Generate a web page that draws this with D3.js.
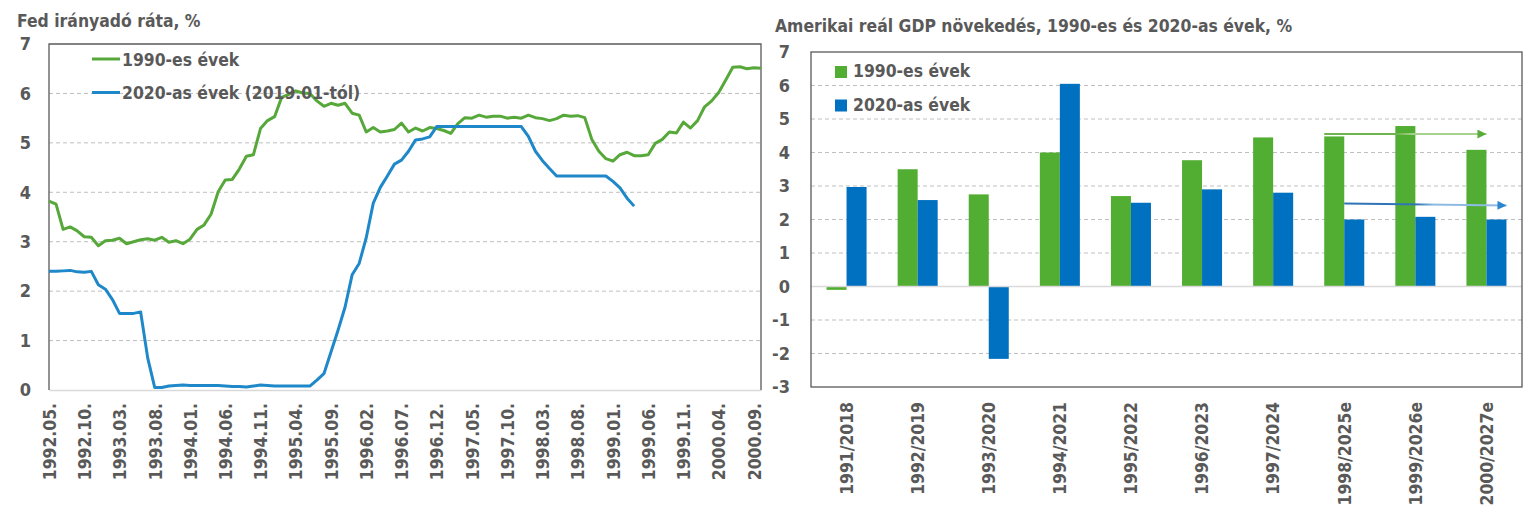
<!DOCTYPE html>
<html>
<head>
<meta charset="utf-8">
<script src="https://cdn.jsdelivr.net/npm/d3@7"></script>
<style>
  body { margin: 0; background: #fff; }
  svg text { font-family: "DejaVu Sans Condensed", "DejaVu Sans", sans-serif; font-stretch: condensed; font-weight: bold; fill: #595959; }
</style>
</head>
<body>
<div id="chart"></div>
<script>
const width = 1540,
      height = 511;

// Fed effective rate, monthly; 1990s series from 1992.05, 2020s series from 2019.01
const rate1990s = [
  3.82, 3.76, 3.25, 3.30, 3.22, 3.10, 3.09, 2.92,
  3.02, 3.03, 3.07, 2.96, 3.00, 3.04, 3.06, 3.03, 3.09, 2.99, 3.02, 2.96,
  3.05, 3.25, 3.34, 3.56, 4.01, 4.25, 4.26, 4.47, 4.73, 4.76, 5.29, 5.45,
  5.53, 5.92, 5.98, 6.05, 6.01, 6.00, 5.85, 5.74, 5.80, 5.76, 5.80, 5.60,
  5.56, 5.22, 5.31, 5.22, 5.24, 5.27, 5.40, 5.22, 5.30, 5.24, 5.31, 5.29,
  5.25, 5.19, 5.39, 5.51, 5.50, 5.56, 5.52, 5.54, 5.54, 5.50, 5.52, 5.50,
  5.56, 5.51, 5.49, 5.45, 5.49, 5.56, 5.54, 5.55, 5.51, 5.07, 4.83, 4.68,
  4.63, 4.76, 4.81, 4.74, 4.74, 4.76, 4.99, 5.07, 5.22, 5.20, 5.42, 5.30,
  5.45, 5.73, 5.85, 6.02, 6.27, 6.53, 6.54, 6.50, 6.52, 6.51
];
const rate2020s = [
  2.40, 2.40, 2.41, 2.42, 2.39, 2.38, 2.40, 2.13, 2.04, 1.83, 1.55, 1.55,
  1.55, 1.58, 0.65, 0.05, 0.05, 0.08, 0.09, 0.10, 0.09, 0.09, 0.09, 0.09,
  0.09, 0.08, 0.07, 0.07, 0.06, 0.08, 0.10, 0.09, 0.08, 0.08, 0.08, 0.08,
  0.08, 0.08, 0.20, 0.33, 0.77, 1.21, 1.68, 2.33, 2.56, 3.08, 3.78, 4.10,
  4.33, 4.57, 4.65, 4.83, 5.06, 5.08, 5.12, 5.33, 5.33, 5.33, 5.33, 5.33,
  5.33, 5.33, 5.33, 5.33, 5.33, 5.33, 5.33, 5.33, 5.13, 4.83, 4.64, 4.48,
  4.33, 4.33, 4.33, 4.33, 4.33, 4.33, 4.33, 4.33, 4.22, 4.09, 3.88, 3.72
];
const rateTickLabels = [
  '1992.05.', '1992.10.', '1993.03.', '1993.08.', '1994.01.', '1994.06.', '1994.11.',
  '1995.04.', '1995.09.', '1996.02.', '1996.07.', '1996.12.', '1997.05.', '1997.10.',
  '1998.03.', '1998.08.', '1999.01.', '1999.06.', '1999.11.', '2000.04.', '2000.09.'
];
const rateSeries = ['1990-es évek', '2020-as évek (2019.01-tól)'];

// GDP growth
const gdpCategories = ['1991/2018', '1992/2019', '1993/2020', '1994/2021', '1995/2022',
                       '1996/2023', '1997/2024', '1998/2025e', '1999/2026e', '2000/2027e'];
const gdp1990s = [-0.1, 3.5, 2.75, 4.0, 2.7, 3.77, 4.45, 4.48, 4.79, 4.08];
const gdp2020s = [2.97, 2.58, -2.16, 6.05, 2.5, 2.9, 2.8, 2.0, 2.08, 2.0];
const gdpSeries = ['1990-es évek', '2020-as évek'];
const gdpArrows = [
  { series: '1990-es évek', from: '1998/2025e', to: '2000/2027e', v0: 4.55, v1: 4.55 },
  { series: '2020-as évek', from: '1998/2025e', to: '2000/2027e', v0: 2.48, v1: 2.42 }
];

const lineColor = d3.scaleOrdinal().domain(rateSeries).range(['#57a83a', '#1e88c8']);
const barColor = d3.scaleOrdinal().domain(gdpSeries).range(['#52ae32', '#0070c0']);
const plainNum = d => String(d); // hyphen minus, like the original

const svg = d3.select('#chart').append('svg')
    .attr('width', width)
    .attr('height', height);

svg.append('rect').attr('width', width).attr('height', height).attr('fill', '#fff');

// ---------- Left: Fed rate ----------
const L = { left: 49, right: 761, top: 44, bottom: 390 };

// month categories starting 1992.05
const months = d3.range(rate1990s.length).map(i => {
  const m = 4 + i;
  return `${1992 + Math.floor(m / 12)}.${String(m % 12 + 1).padStart(2, '0')}.`;
});

const xL = d3.scalePoint().domain(months).range([L.left, L.right]);
const yL = d3.scaleLinear().domain([0, 7]).range([L.bottom, L.top]);

svg.append('text')
    .attr('x', 17).attr('y', 27)
    .style('font-size', '17.4px')
    .text('Fed irányadó ráta, %');

svg.append('g')
    .selectAll('line')
    .data(d3.range(1, 7))
    .enter().append('line')
    .attr('x1', L.left).attr('x2', L.right)
    .attr('y1', d => yL(d)).attr('y2', d => yL(d))
    .attr('stroke', '#bfbfbf')
    .attr('stroke-dasharray', '4,3');

// y labels
svg.append('g')
    .attr('transform', `translate(${L.left - 18},0)`)
    .call(d3.axisLeft(yL).ticks(7).tickFormat(plainNum).tickSize(0).tickPadding(0))
    .call(g => g.select('.domain').remove())
    .selectAll('text')
    .style('font-size', '18px')
    .attr('fill', null);

// x axis
const xAxisL = svg.append('g')
    .attr('transform', `translate(0,${L.bottom})`)
    .call(d3.axisBottom(xL).tickValues(rateTickLabels).tickSize(0))
    .call(g => g.select('.domain').attr('stroke', '#d9d9d9').attr('stroke-width', 1.5));
xAxisL.selectAll('text')
    .attr('fill', null)
    .style('font-size', '17.4px')
    .attr('transform', 'rotate(-90)')
    .attr('text-anchor', 'end')
    .attr('x', -13).attr('y', 0).attr('dy', '0.36em');

// border (left, top, right)
svg.append('path')
    .attr('d', `M${L.left},${L.bottom}V${L.top}H${L.right}V${L.bottom}`)
    .attr('fill', 'none')
    .attr('stroke', '#595959')
    .attr('stroke-width', 1.3);

const line = d3.line()
    .x((d, i) => xL(months[i]))
    .y(d => yL(d));

[rate1990s, rate2020s].forEach((vals, k) => {
  svg.append('path')
      .datum(vals)
      .attr('d', line)
      .attr('fill', 'none')
      .attr('stroke', lineColor(rateSeries[k]))
      .attr('stroke-width', 3)
      .attr('stroke-linejoin', 'round');
});

// legend
rateSeries.forEach((s, i) => {
  const ly = 59 + i * 33.5;
  svg.append('line')
      .attr('x1', 92).attr('x2', 120)
      .attr('y1', ly).attr('y2', ly)
      .attr('stroke', lineColor(s))
      .attr('stroke-width', 3);
  svg.append('text')
      .attr('x', 122).attr('y', ly + 6.5)
      .style('font-size', '17.4px')
      .text(s);
});

// ---------- Right: GDP ----------
const R = { left: 811, right: 1522, top: 52, bottom: 387 };

const x0 = d3.scaleBand()
    .domain(gdpCategories)
    .range([R.left, R.right])
    .paddingInner(0.437)
    .paddingOuter(0.2185);
const x1 = d3.scaleBand().domain(gdpSeries).range([0, x0.bandwidth()]);
const yR = d3.scaleLinear().domain([-3, 7]).range([R.bottom, R.top]);

svg.append('text')
    .attr('x', 775).attr('y', 32)
    .style('font-size', '17.4px')
    .text('Amerikai reál GDP növekedés, 1990-es és 2020-as évek, %');

svg.append('g')
    .selectAll('line')
    .data(d3.range(-2, 7).filter(d => d !== 0))
    .enter().append('line')
    .attr('x1', R.left).attr('x2', R.right)
    .attr('y1', d => yR(d)).attr('y2', d => yR(d))
    .attr('stroke', '#bfbfbf')
    .attr('stroke-dasharray', '4,3');

svg.append('g')
    .attr('transform', `translate(${R.left - 21},0)`)
    .call(d3.axisLeft(yR).ticks(10).tickFormat(plainNum).tickSize(0).tickPadding(0))
    .call(g => g.select('.domain').remove())
    .selectAll('text')
    .style('font-size', '18px')
    .attr('fill', null);

const groups = svg.selectAll('g.cat')
    .data(gdpCategories)
    .enter().append('g')
    .attr('class', 'cat')
    .attr('transform', d => `translate(${x0(d)},0)`);

groups.selectAll('rect')
    .data((d, i) => [
      { series: gdpSeries[0], value: gdp1990s[i] },
      { series: gdpSeries[1], value: gdp2020s[i] }
    ])
    .enter().append('rect')
    .attr('x', d => x1(d.series))
    .attr('y', d => yR(Math.max(0, d.value)))
    .attr('width', x1.bandwidth())
    .attr('height', d => Math.abs(yR(d.value) - yR(0)))
    .attr('fill', d => barColor(d.series));

// zero line
svg.append('line')
    .attr('x1', R.left).attr('x2', R.right)
    .attr('y1', yR(0)).attr('y2', yR(0))
    .attr('stroke', '#d9d9d9')
    .attr('stroke-width', 1.5);

// x labels
const xAxisR = svg.append('g')
    .attr('transform', `translate(0,${R.bottom})`)
    .call(d3.axisBottom(x0).tickSize(0))
    .call(g => g.select('.domain').remove());
xAxisR.selectAll('text')
    .attr('fill', null)
    .style('font-size', '17.4px')
    .attr('transform', 'rotate(-90)')
    .attr('text-anchor', 'end')
    .attr('x', -15).attr('y', 0).attr('dy', '0.36em');

svg.append('rect')
    .attr('x', R.left).attr('y', R.top)
    .attr('width', R.right - R.left).attr('height', R.bottom - R.top)
    .attr('fill', 'none')
    .attr('stroke', '#595959')
    .attr('stroke-width', 1.3);

// trend arrows
const defs = svg.append('defs');
const arrowStyles = {
  '1990-es évek': { dark: '#6fb44f', light: '#a9d18e', head: '#5aab3c' },
  '2020-as évek': { dark: '#2f75b5', light: '#8dbbe3', head: '#2a86d1' }
};
gdpArrows.forEach((a, i) => {
  const st = arrowStyles[a.series];
  defs.append('marker')
      .attr('id', `head${i}`)
      .attr('viewBox', '0 0 10 10')
      .attr('refX', 10).attr('refY', 5)
      .attr('markerUnits', 'userSpaceOnUse')
      .attr('markerWidth', 12).attr('markerHeight', 9)
      .attr('orient', 'auto')
      .append('path')
      .attr('d', 'M0,0L10,5L0,10Z')
      .attr('fill', st.head);
  const xs = x0(a.from) + x1(a.series);
  const xe = i === 0 ? x0(a.to) + x0.bandwidth() / 2 : x0(a.to) + x0.bandwidth();
  const grad = defs.append('linearGradient')
      .attr('id', `grad${i}`)
      .attr('gradientUnits', 'userSpaceOnUse')
      .attr('x1', xs).attr('x2', xe).attr('y1', 0).attr('y2', 0);
  grad.append('stop').attr('offset', '0%').attr('stop-color', st.dark);
  grad.append('stop').attr('offset', '45%').attr('stop-color', st.dark);
  grad.append('stop').attr('offset', '55%').attr('stop-color', st.light);
  grad.append('stop').attr('offset', '100%').attr('stop-color', st.light);
  svg.append('line')
      .attr('x1', xs).attr('x2', xe)
      .attr('y1', yR(a.v0)).attr('y2', yR(a.v1))
      .attr('stroke', `url(#grad${i})`)
      .attr('stroke-width', 2)
      .attr('marker-end', `url(#head${i})`);
});

// legend
gdpSeries.forEach((s, i) => {
  const ly = 66 + i * 33.5;
  svg.append('rect')
      .attr('x', R.left + 24).attr('y', ly)
      .attr('width', 12).attr('height', 12)
      .attr('fill', barColor(s));
  svg.append('text')
      .attr('x', R.left + 42).attr('y', ly + 11)
      .style('font-size', '17.4px')
      .text(s);
});
</script>
</body>
</html>
